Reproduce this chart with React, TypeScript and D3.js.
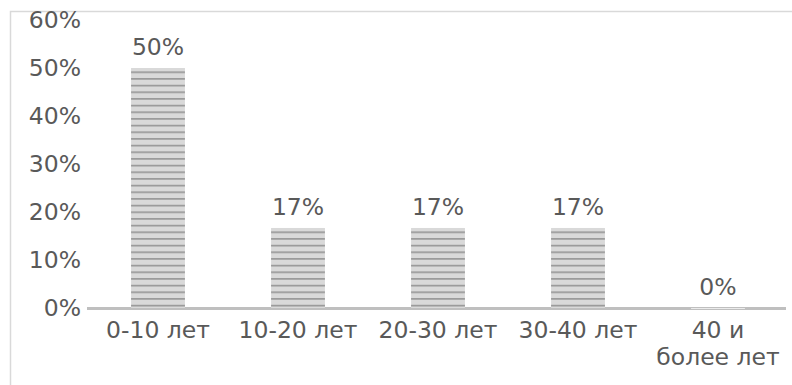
import React from "react";
import * as d3 from "d3";

const categories: string[][] = [["0-10 лет"], ["10-20 лет"], ["20-30 лет"], ["30-40 лет"], ["40 и", "более лет"]];
const values: number[] = [0.5, 0.1667, 0.1667, 0.1667, 0];
const yTicks: number[] = [0, 0.1, 0.2, 0.3, 0.4, 0.5, 0.6];

const W = 792;
const H = 385;
const FONT = "'DejaVu Sans', sans-serif";
const TEXT = "#595959";
const FS = 23.5;

export default function App() {
  const x = d3.scaleBand<number>().domain(d3.range(values.length)).range([88, 788]).paddingInner(0.615).paddingOuter(0.3075);
  const y = d3.scaleLinear().domain([0, 0.6]).range([308, 20]);
  const pct = d3.format(".0%");

  return (
    <svg width={W} height={H} style={{ position: "absolute", left: 0, top: 0, background: "#fff" }}>
      <defs>
        <pattern id="hlines" patternUnits="userSpaceOnUse" width={10} height={6.667}>
          <rect width={10} height={6.667} fill="#d9d9d9" />
          <rect y={5} width={10} height={1.2} fill="#7f7f7f" />
        </pattern>
      </defs>
      <rect x={10.5} y={11.5} width={W} height={H} fill="none" stroke="#d9d9d9" strokeWidth={1.5} />
      {yTicks.map((t) => (
        <text key={t} x={81} y={y(t)} dy="0.36em" textAnchor="end" fontFamily={FONT} fontSize={FS} fill={TEXT}>
          {pct(t)}
        </text>
      ))}
      <line x1={87} x2={786} y1={308.5} y2={308.5} stroke="#bfbfbf" strokeWidth={3} />
      {values.map((v, i) => (
        <g key={i}>
          {v > 0 ? (
            <rect x={x(i)} y={y(v)} width={x.bandwidth()} height={y(0) - y(v)} fill="url(#hlines)" />
          ) : (
            <line x1={x(i)} x2={(x(i) as number) + x.bandwidth()} y1={y(0) + 0.5} y2={y(0) + 0.5} stroke="#ebebeb" strokeWidth={1} />
          )}
          <text x={(x(i) as number) + x.bandwidth() / 2} y={y(v) - 13} textAnchor="middle" fontFamily={FONT} fontSize={FS} fill={TEXT}>
            {pct(v)}
          </text>
        </g>
      ))}
      {categories.map((lines, i) => (
        <text key={i} x={(x(i) as number) + x.bandwidth() / 2} y={337.5} textAnchor="middle" fontFamily={FONT} fontSize={FS} fill={TEXT}>
          {lines.map((l, j) => (
            <tspan key={j} x={(x(i) as number) + x.bandwidth() / 2} dy={j === 0 ? 0 : 27.5}>
              {l}
            </tspan>
          ))}
        </text>
      ))}
    </svg>
  );
}
